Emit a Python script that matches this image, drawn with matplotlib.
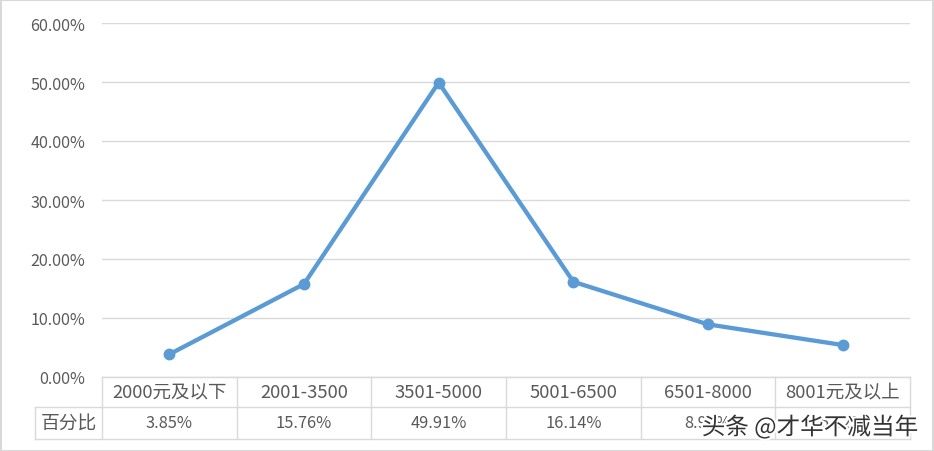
import matplotlib
matplotlib.use('Agg')
import matplotlib.pyplot as plt
import matplotlib.patheffects as pe
from matplotlib.patches import Rectangle
from matplotlib.ticker import FuncFormatter

plt.rcParams['font.family'] = ['Noto Sans CJK SC', 'DejaVu Sans']
plt.rcParams['font.weight'] = 'light'

# 数据
categories = ['2000元及以下', '2001-3500', '3501-5000', '5001-6500', '6501-8000', '8001元及以上']
percent = [3.85, 15.76, 49.91, 16.14, 8.92, 5.42]
row_label = '百分比'
y_ticks = [0, 10, 20, 30, 40, 50, 60]

W, H = 934, 452
fig = plt.figure(figsize=(W / 100, H / 100), dpi=100)
fig.patches.append(Rectangle((0.5 / W, 0.5 / H), 1 - 1.5 / W, 1 - 1.5 / H, transform=fig.transFigure,
                             fill=False, edgecolor='#D9D9D9', linewidth=1.5))

left, right, top, bottom = 102, 910, 24, 378
ax = fig.add_axes([left / W, 1 - bottom / H, (right - left) / W, (bottom - top) / H])

line_color = '#5B9BD5'
grid_color = '#D9D9D9'
text_color = '#595959'

x = list(range(len(categories)))
ax.plot(x, percent, color=line_color, linewidth=3.1, marker='o', markersize=7.5, zorder=3)

ax.set_xlim(-0.5, len(categories) - 0.5)
ax.set_ylim(0, 60)
ax.set_yticks(y_ticks)
ax.yaxis.set_major_formatter(FuncFormatter(lambda v, p: f'{v:.2f}%'))
ax.grid(axis='y', color=grid_color, linewidth=1)
ax.set_axisbelow(True)
ax.tick_params(axis='y', length=0, pad=12, labelsize=11.6, labelcolor=text_color)
ax.tick_params(axis='x', length=0, labelbottom=False)
for s in ax.spines.values():
    s.set_visible(False)

# 数据表（行高按像素换算成数据单位）
px = 60 / (bottom - top)
row1, row2 = 30 * px, 62 * px
label_left = -0.5 - (left - 35) / ((right - left) / len(categories))
tb = dict(color=grid_color, linewidth=1, clip_on=False)
ax.plot([-0.5, len(categories) - 0.5], [0, 0], **tb)
ax.plot([label_left, len(categories) - 0.5], [-row1, -row1], **tb)
ax.plot([label_left, len(categories) - 0.5], [-row2, -row2], **tb)
ax.plot([label_left, label_left], [-row1, -row2], **tb)
for i in range(len(categories) + 1):
    ax.plot([i - 0.5, i - 0.5], [0, -row2], **tb)

for i, (c, v) in enumerate(zip(categories, percent)):
    ax.text(i, -row1 / 2, c, ha='center', va='center', fontsize=13.3, color=text_color, clip_on=False)
    ax.text(i, -(row1 + row2) / 2, f'{v:.2f}%', ha='center', va='center', fontsize=11.8,
            color=text_color, clip_on=False)
ax.text((label_left - 0.5) / 2, -(row1 + row2) / 2, row_label, ha='center', va='center',
        fontsize=13.5, color=text_color, clip_on=False)

# 水印
fig.text(810 / W, 1 - 428 / H, '头条 @才华不减当年', ha='center', va='center', fontsize=17,
         color='#333333', path_effects=[pe.withStroke(linewidth=3, foreground='white')])

fig.savefig('out.png', dpi=100)
